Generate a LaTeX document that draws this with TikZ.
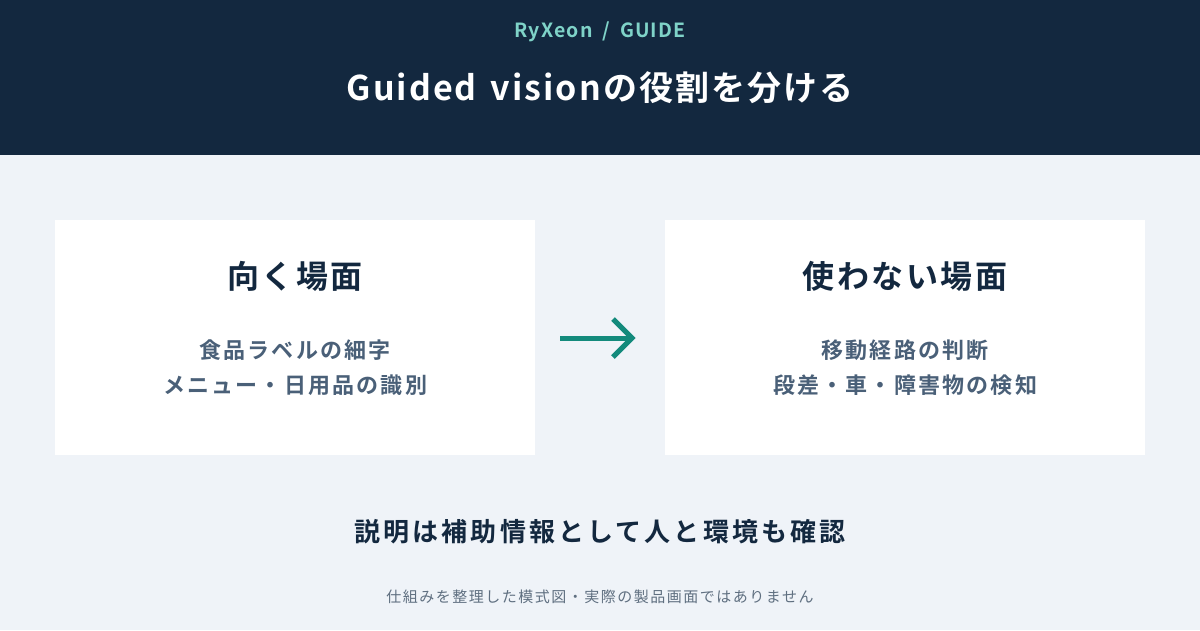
\documentclass[tikz,border=0pt]{standalone}
\usepackage{fontspec}
\setmainfont{Noto Sans CJK JP}[BoldFont={* Bold}]
\newfontfamily\lsA{Noto Sans CJK JP Bold}[LetterSpace=6]
\newfontfamily\lsH{Noto Sans CJK JP Bold}[LetterSpace=8]
\newfontfamily\lsB{Noto Sans CJK JP Bold}[LetterSpace=10]
\newfontfamily\lsM{Noto Sans CJK JP Bold}[LetterSpace=12]
\newfontfamily\lsF{Noto Sans CJK JP}[LetterSpace=10]
\newfontfamily\lsT{Noto Sans CJK JP Bold}[LetterSpace=6]
\definecolor{navy}{HTML}{13283F}
\definecolor{bg}{HTML}{EFF3F8}
\definecolor{teal}{HTML}{7FD3C8}
\definecolor{arrowc}{HTML}{138A7C}
\definecolor{sub}{HTML}{4A6078}
\definecolor{foot}{HTML}{5F6F80}
\begin{document}
\begin{tikzpicture}[x=1pt,y=-1pt,
  box/.style={fill=white,draw=none},
  head/.style={font=\fontsize{32}{38}\selectfont\lsH,text=navy},
  body/.style={font=\fontsize{22}{35}\selectfont\lsB,text=sub,align=center}]
\useasboundingbox (0,0) rectangle (1200,630);
\fill[bg] (0,0) rectangle (1200,630);
\fill[navy] (0,0) rectangle (1200,155);
\node[text=teal,font=\fontsize{19.5}{22}\selectfont\lsT] (brand) at (600,32) {RyXeon\hspace{10pt}/\hspace{10pt}GUIDE};
\node[text=white,font=\fontsize{34}{40}\selectfont\lsA] (title) at (600,88) {Guided\hspace{14pt}visionの役割を分ける};
\node[box,minimum width=480,minimum height=235,anchor=north west] (L) at (55,220) {};
\node[box,minimum width=480,minimum height=235,anchor=north west] (R) at (665,220) {};
\node[head] (lh) at (295,276) {向く場面};
\node[head] (rh) at (905,276) {使わない場面};
\node[body] (lb) at (295,368) {食品ラベルの細字\\メニュー・日用品の識別};
\node[body] (rb) at (905,368) {移動経路の判断\\段差・車・障害物の検知};
\coordinate (a1) at (560,338); \coordinate (a2) at (636,338);
\draw[arrowc,line width=5pt] (a1) -- (632,338);
\draw[arrowc,line width=5pt,line join=miter] (613,319) -- (632,338) -- (613,357);
\node[text=navy,font=\fontsize{26}{30}\selectfont\lsM] (msg) at (600,532) {説明は補助情報として人と環境も確認};
\node[text=foot,font=\fontsize{15}{18}\selectfont\lsF] (fn) at (600,597) {仕組みを整理した模式図・実際の製品画面ではありません};
\end{tikzpicture}
\end{document}
